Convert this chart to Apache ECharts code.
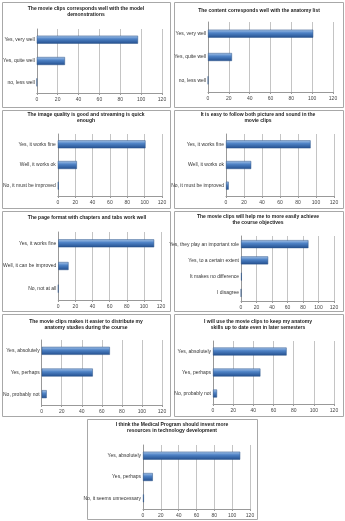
<!DOCTYPE html>
<html>
<head>
<meta charset="utf-8">
<script src="https://cdn.jsdelivr.net/npm/echarts@6/dist/echarts.min.js"></script>
<style>
  html, body { margin: 0; padding: 0; background: #fff; }
  #main { width: 345px; height: 521px; }
</style>
</head>
<body>
<div id="main"></div>
<script>
// survey answers, one pair of arrays per panel
const titles = [
  'The movie clips corresponds well with the model\ndemonstrations',
  'The content corresponds well with the anatomy list',
  'The image quality is good and streaming is quick\nenough',
  'It is easy to follow both picture and sound in the\nmovie clips',
  'The page format with chapters and tabs work well',
  'The movie clips will help me to more easily achieve\nthe course objectives',
  'The movie clips makes it easier to distribute my\nanatomy studies during the course',
  'I will use the movie clips to keep my anatomy\nskills up to date even in later semesters',
  'I think the Medical Program should invest more\nresources in technology development'
];
const cats1 = ['Yes, very well', 'Yes, quite well', 'no, less well'];
const vals1 = [97, 27, 0];
const cats2 = ['Yes, very well', 'Yes, quite well', 'no, less well'];
const vals2 = [101, 23, 0];
const cats3 = ['Yes, it works fine', 'Well, it works ok', 'No, it must be improved'];
const vals3 = [101, 22, 1];
const cats4 = ['Yes, it works fine', 'Well, it works ok', 'No, it must be improved'];
const vals4 = [94, 28, 3];
const cats5 = ['Yes, it works fine', 'Well, it can be improved', 'No, not at all'];
const vals5 = [112, 12, 0];
const cats6 = ['Yes, they play an important role', 'Yes, to a certain extent', 'It makes no difference', 'I disagree'];
const vals6 = [87, 35, 1, 0];
const cats7 = ['Yes, absolutely', 'Yes, perhaps', 'No, probably not'];
const vals7 = [68, 51, 5];
const cats8 = ['Yes, absolutely', 'Yes, perhaps', 'No, probably not'];
const vals8 = [73, 47, 4];
const cats9 = ['Yes, absolutely', 'Yes, perhaps', 'No, it seems unnecessary'];
const vals9 = [109, 11, 1];
const xTicks = [0, 20, 40, 60, 80, 100, 120];

const cats = [cats1, cats2, cats3, cats4, cats5, cats6, cats7, cats8, cats9];
const vals = [vals1, vals2, vals3, vals4, vals5, vals6, vals7, vals8, vals9];

// panel boxes [x, y, w, h], title centre/top, plot rect [left, top, width, height]
const boxes = [
  [2, 2, 168, 105], [174, 2, 169, 105],
  [2, 110, 168, 98], [174, 110, 169, 98],
  [2, 211, 168, 100], [174, 211, 169, 100],
  [2, 314, 168, 102], [174, 314, 169, 102],
  [87, 419, 170, 100]
];
const titlePos = [
  [86, 6], [259, 8],
  [86, 112], [258, 112],
  [87, 215], [258, 214],
  [86, 319], [258, 319],
  [172, 422]
];
const plots = [
  [36, 29, 126, 64], [208, 22, 125, 70],
  [55, 134, 107, 62], [226, 134, 108, 62],
  [55, 232, 106, 68], [241, 236, 93, 65],
  [41, 340, 121, 65], [213, 341, 121, 63],
  [143, 445, 107, 64]
];

const font = 'Liberation Sans, Arial, sans-serif';
const barColor = new echarts.graphic.LinearGradient(0, 0, 0, 1, [
  { offset: 0, color: '#a9c6ea' },
  { offset: 0.4, color: '#4f83c6' },
  { offset: 1, color: '#234f8e' }
]);

const el = document.getElementById('main');
const myChart = echarts.init(el, null, { renderer: 'canvas' });

const option = {
  animation: false,
  title: titles.map((t, i) => ({
    text: t,
    left: titlePos[i][0],
    top: titlePos[i][1],
    textAlign: 'center',
    padding: 0,
    textStyle: { fontSize: 5, fontWeight: 'bold', color: '#222', fontFamily: font, lineHeight: 6 }
  })),
  graphic: boxes.map(b => ({
    type: 'rect',
    silent: true,
    z: -1,
    shape: { x: b[0] + 0.5, y: b[1] + 0.5, width: b[2], height: b[3] },
    style: { fill: '#fff', stroke: '#a8a8a8', lineWidth: 1 }
  })),
  grid: plots.map(p => ({ left: p[0], top: p[1], width: p[2], height: p[3] })),
  xAxis: plots.map((p, i) => ({
    type: 'value',
    gridIndex: i,
    min: xTicks[0],
    max: xTicks[xTicks.length - 1],
    interval: 20,
    axisLine: { show: true, lineStyle: { color: '#999', width: 1 } },
    axisTick: { show: true, length: 2, lineStyle: { color: '#999' } },
    axisLabel: { fontSize: 5, color: '#444', margin: 4, fontFamily: font },
    splitLine: { show: true, lineStyle: { color: '#b5b5b5', width: 0.8 } }
  })),
  yAxis: cats.map((c, i) => ({
    type: 'category',
    gridIndex: i,
    data: c,
    inverse: true,
    axisLine: { show: true, lineStyle: { color: '#999', width: 1 } },
    axisTick: { show: false },
    axisLabel: { fontSize: 5, color: '#333', margin: 2, fontFamily: font }
  })),
  series: vals.map((v, i) => ({
    type: 'bar',
    xAxisIndex: i,
    yAxisIndex: i,
    data: v,
    barWidth: 8,
    itemStyle: { color: barColor, borderColor: '#2d5588', borderWidth: 0.5 }
  }))
};
myChart.setOption(option);
</script>
</body>
</html>
